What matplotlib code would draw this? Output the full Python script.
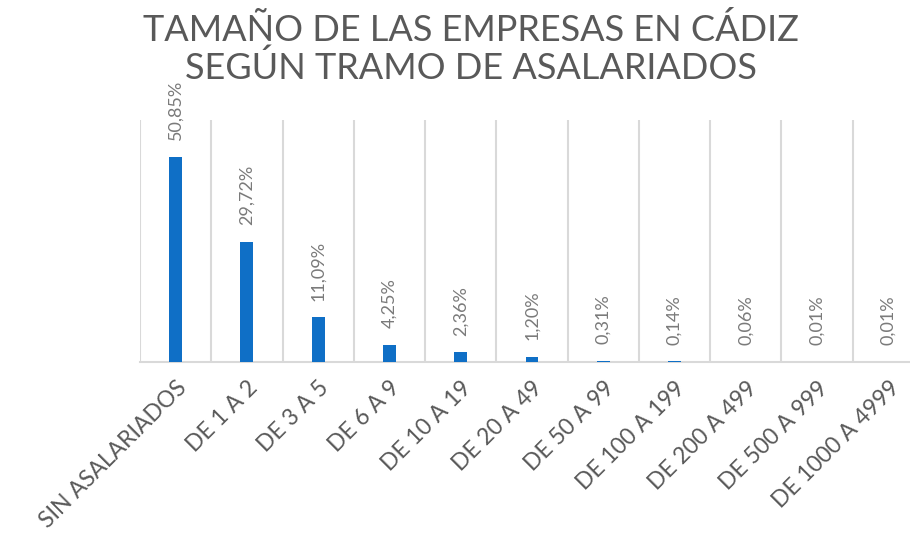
import matplotlib.pyplot as plt
import numpy as np

# tramos de asalariados y porcentaje de empresas
categories = ['SIN ASALARIADOS', 'DE 1 A 2', 'DE 3 A 5', 'DE 6 A 9', 'DE 10 A 19',
              'DE 20 A 49', 'DE 50 A 99', 'DE 100 A 199', 'DE 200 A 499',
              'DE 500 A 999', 'DE 1000 A 4999']
values = [50.85, 29.72, 11.09, 4.25, 2.36, 1.20, 0.31, 0.14, 0.06, 0.01, 0.01]
labels = ['50,85%', '29,72%', '11,09%', '4,25%', '2,36%', '1,20%',
          '0,31%', '0,14%', '0,06%', '0,01%', '0,01%']

plt.rcParams['font.family'] = ['Lato', 'DejaVu Sans']

fig = plt.figure(figsize=(9.1, 5.45), dpi=100)
ax = fig.add_axes([140/910, 1-362/545, 784/910, 242/545])

x = np.arange(len(categories))
ax.bar(x, values, width=0.18, color='#0F6FC6', zorder=3, linewidth=0)

for xi, v, lab in zip(x, values, labels):
    ax.annotate(lab, (xi, v), xytext=(0, 12), textcoords='offset points',
                rotation=90, ha='center', va='bottom', fontsize=13,
                color='#7a7a7a')

ax.set_xlim(-0.5, len(categories) - 0.5)
ax.set_ylim(0, 60)

# lineas verticales entre categorias
for b in np.arange(-0.5, len(categories), 1.0):
    ax.axvline(b, color='#d9d9d9', lw=1.5, zorder=1)

for s in ['top', 'right', 'left']:
    ax.spines[s].set_visible(False)
ax.spines['bottom'].set_color('#d9d9d9')
ax.spines['bottom'].set_linewidth(1.5)

ax.set_yticks([])
ax.set_xticks(x)
ax.set_xticklabels(categories, rotation=45, ha='right', va='top',
                   rotation_mode='anchor', fontsize=16.5, color='#595959')
ax.tick_params(axis='x', length=0, pad=11)

fig.text(471/910, 1-30/545, 'TAMAÑO DE LAS EMPRESAS EN CÁDIZ', ha='center', va='center',
         fontsize=26, color='#595959')
fig.text(471/910, 1-68/545, 'SEGÚN TRAMO DE ASALARIADOS', ha='center', va='center',
         fontsize=26, color='#595959')

fig.savefig('out.png', dpi=100)
